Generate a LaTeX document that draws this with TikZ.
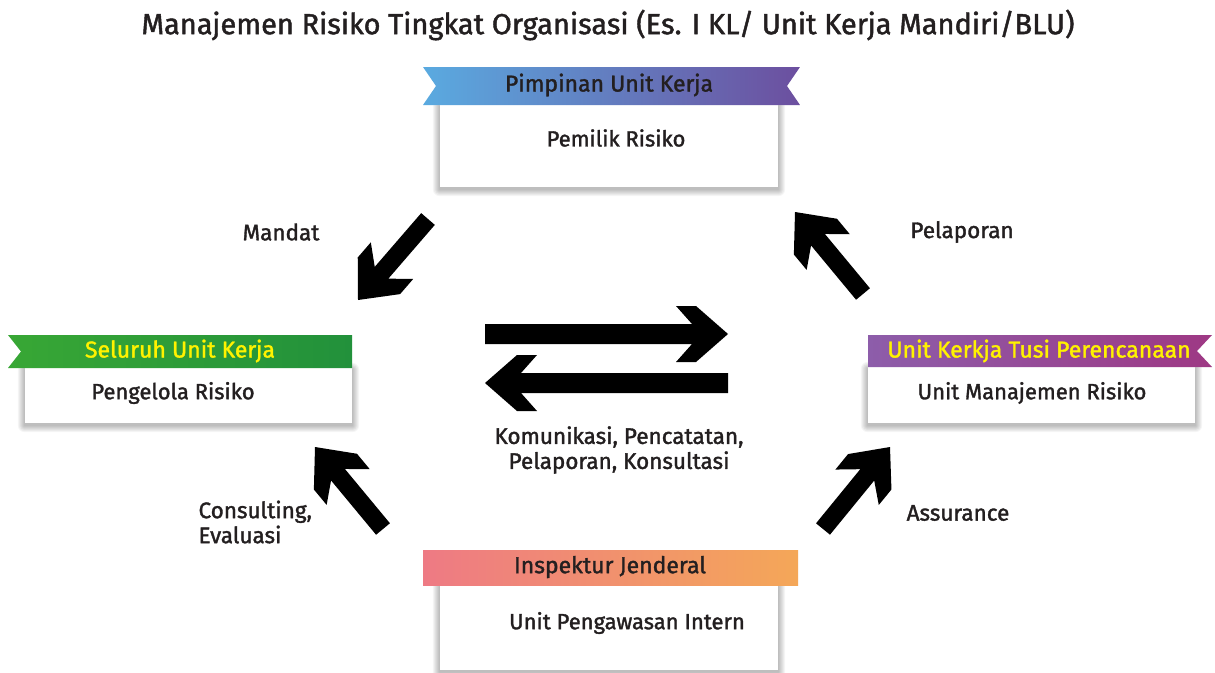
\documentclass[tikz,border=0pt]{standalone}
\usepackage{fontspec}
\setmainfont{Fira Sans}[FakeBold=1.5]
\usetikzlibrary{calc}
\definecolor{txt}{HTML}{231F20}
\definecolor{ylw}{HTML}{FFF200}
\definecolor{blueA}{HTML}{5AAAE0}
\definecolor{purpA}{HTML}{6C4F9F}
\definecolor{greenA}{HTML}{38A735}
\definecolor{greenB}{HTML}{22913B}
\definecolor{purpB}{HTML}{8D5DAA}
\definecolor{magB}{HTML}{9E3884}
\definecolor{pinkC}{HTML}{EE7A84}
\definecolor{orC}{HTML}{F4A758}
\tikzset{
  whitebox/.style={rectangle, fill=white, inner sep=0pt},
  bodytext/.style={font=\fontsize{22}{24}\selectfont, text=txt},
  headtext/.style={font=\fontsize{23}{25}\selectfont, text=txt},
  headyellow/.style={font=\fontsize{23}{25}\selectfont, text=ylw},
  labeltext/.style={font=\fontsize{22.5}{25}\selectfont, text=txt, align=left},
  titletext/.style={font=\fontsize{29}{32}\selectfont, text=txt},
  arrowfill/.style={fill=black},
}
\newcommand{\softshadow}[1]{%
  \foreach \i in {1,...,7}{%
    \fill[black, opacity=0.04, rounded corners=\i pt]
      ([xshift={-\i*1pt}, yshift={-\i*1pt-2pt}]#1.south west) rectangle
      ([xshift={\i*1pt}, yshift={\i*1pt-2pt}]#1.north east);
  }}
\newcommand{\blockarrow}[3]{%
  \coordinate (bo) at ($(#2)!32pt!(#1)$);
  \coordinate (bb) at ($(#2)!52pt!(#1)$);
  \coordinate (bj) at ($(#2)!36pt!(#1)$);
  \fill[arrowfill]
    ($(#1)!#3!90:(#2)$) -- ($(bj)!#3!90:(#2)$) -- ($(bb)!28pt!90:(#2)$) --
    ($(bo)!28pt!90:(#2)$) -- (#2) -- ($(bo)!28pt!-90:(#2)$) --
    ($(bb)!28pt!-90:(#2)$) -- ($(bj)!#3!-90:(#2)$) -- ($(#1)!#3!-90:(#2)$) -- cycle;
}
\begin{document}
\begin{tikzpicture}[x=1pt, y=-1pt]
\useasboundingbox (0,0) rectangle (1215,672);
\fill[white] (0,0) rectangle (1215,672);

% title
\node[titletext] (title) at (608,25) {Manajemen Risiko Tingkat Organisasi (Es. I KL/ Unit Kerja Mandiri/BLU)};

% white boxes
\node[whitebox, minimum width=338pt, minimum height=82pt] (topbox) at (609,146) {};
\node[whitebox, minimum width=327pt, minimum height=55pt] (leftbox) at (188.5,395.5) {};
\node[whitebox, minimum width=327pt, minimum height=56pt] (rightbox) at (1031.5,395) {};
\node[whitebox, minimum width=338pt, minimum height=85pt] (botbox) at (609,627.5) {};

% shadows
\softshadow{topbox}
\softshadow{leftbox}
\softshadow{rightbox}
\softshadow{botbox}
\fill[white] (topbox.south west) rectangle (topbox.north east);
\fill[white] (leftbox.south west) rectangle (leftbox.north east);
\fill[white] (rightbox.south west) rectangle (rightbox.north east);
\fill[white] (botbox.south west) rectangle (botbox.north east);

% banners
\shade[left color=blueA, right color=purpA]
  (423,67) -- (800,67) -- (787,86) -- (800,105) -- (423,105) -- (436,86) -- cycle;
\shade[left color=greenA, right color=greenB]
  (8,335) -- (352,335) -- (352,368) -- (8,368) -- (21,351.5) -- cycle;
\shade[left color=purpB, right color=magB]
  (868,335) -- (1212,335) -- (1197,351) -- (1212,367) -- (868,367) -- cycle;
\shade[left color=pinkC, right color=orC]
  (423,550) rectangle (798,585);

% banner texts
\node[headtext] (tophead) at (609,85) {Pimpinan Unit Kerja};
\node[headyellow] (lefthead) at (180,351) {Seluruh Unit Kerja};
\node[headyellow] (righthead) at (1039,351) {Unit Kerkja Tusi Perencanaan};
\node[headtext] (bothead) at (610,567) {Inspektur Jenderal};

% body texts
\node[bodytext] (toptext) at (616,138) {Pemilik Risiko};
\node[bodytext] (lefttext) at (173,393) {Pengelola Risiko};
\node[bodytext] (righttext) at (1032,393) {Unit Manajemen Risiko};
\node[bodytext] (bottext) at (627,623) {Unit Pengawasan Intern};

% labels
\node[labeltext] (mandat) at (281,232) {Mandat};
\node[labeltext] (pelaporan) at (962,232) {Pelaporan};
\node[labeltext, anchor=west] (consult) at (195,522) {Consulting,\\Evaluasi};
\node[labeltext] (assurance) at (958,513) {Assurance};
\node[labeltext, align=center] (komunikasi) at (619,450) {Komunikasi, Pencatatan,\\Pelaporan, Konsultasi};

% arrow end points
\coordinate (mandatTail) at (428,219);
\coordinate (mandatTip) at (358,300);
\coordinate (pelapTail) at (863,294);
\coordinate (pelapTip) at (795,212);
\coordinate (consTail) at (383,529);
\coordinate (consTip) at (315,447);
\coordinate (assurTail) at (823,529);
\coordinate (assurTip) at (890,447);
\coordinate (rightTail) at (485,334);
\coordinate (rightTip) at (728,334);
\coordinate (leftTail) at (728,383);
\coordinate (leftTip) at (485,383);

\blockarrow{mandatTail}{mandatTip}{9pt}
\blockarrow{pelapTail}{pelapTip}{9pt}
\blockarrow{consTail}{consTip}{9pt}
\blockarrow{assurTail}{assurTip}{9pt}
\blockarrow{rightTail}{rightTip}{10pt}
\blockarrow{leftTail}{leftTip}{10pt}
\end{tikzpicture}
\end{document}
